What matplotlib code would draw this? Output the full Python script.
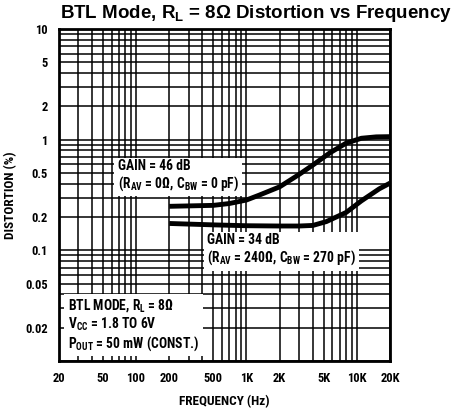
import matplotlib
matplotlib.use("Agg")
import matplotlib.pyplot as plt
from matplotlib import font_manager
from matplotlib.ticker import FixedLocator, NullFormatter

installed = {f.name for f in font_manager.fontManager.ttflist}
narrow = [n for n in ['Liberation Sans Narrow', 'DejaVu Sans Condensed', 'Roboto Condensed',
                      'Open Sans Condensed', 'Liberation Sans'] if n in installed]
plt.rcParams['font.family'] = narrow[:1] + ['DejaVu Sans']
plt.rcParams['font.weight'] = 'bold'
plt.rcParams['axes.labelweight'] = 'bold'
plt.rcParams['mathtext.default'] = 'regular'

# curve data
freq_46 = [200, 500, 700, 1000, 1300, 2000, 3000, 4000, 5700, 8000, 11000, 15000, 20000]
thd_46 = [0.25, 0.255, 0.265, 0.285, 0.315, 0.375, 0.485, 0.59, 0.76, 0.93, 1.03, 1.06, 1.065]

freq_34 = [200, 500, 1000, 2000, 3000, 4000, 5300, 8000, 11000, 16000, 20000]
thd_34 = [0.175, 0.17, 0.167, 0.166, 0.166, 0.168, 0.182, 0.22, 0.28, 0.36, 0.405]

x_ticks = [20, 50, 100, 200, 500, 1000, 2000, 5000, 10000, 20000]
x_labels = ["20", "50", "100", "200", "500", "1K", "2K", "5K", "10K", "20K"]
y_ticks = [0.02, 0.05, 0.1, 0.2, 0.5, 1, 2, 5, 10]
y_labels = ["0.02", "0.05", "0.1", "0.2", "0.5", "1", "2", "5", "10"]

fig = plt.figure(figsize=(4.53, 4.08), dpi=100)
ax = fig.add_axes([0.130, 0.115, 0.731, 0.814])

ax.set_xscale('log')
ax.set_yscale('log')
ax.set_xlim(20, 20000)
ax.set_ylim(0.01, 10)

ax.xaxis.set_major_locator(FixedLocator(x_ticks))
ax.set_xticklabels(x_labels)
ax.yaxis.set_major_locator(FixedLocator(y_ticks))
ax.set_yticklabels(y_labels)

xminor = [m * 10 ** e for e in range(1, 5) for m in range(1, 10)]
yminor = [m * 10 ** e for e in range(-2, 1) for m in range(1, 10)] + [10]
ax.xaxis.set_minor_locator(FixedLocator(xminor))
ax.yaxis.set_minor_locator(FixedLocator(yminor))
ax.xaxis.set_minor_formatter(NullFormatter())
ax.yaxis.set_minor_formatter(NullFormatter())

ax.tick_params(which='both', length=0, labelsize=9, pad=8)
ax.grid(which='both', color='black', lw=1.1)
for s in ax.spines.values():
    s.set_linewidth(2)

ax.plot(freq_46, thd_46, color='black', lw=3.5, zorder=5, solid_capstyle='butt')
ax.plot(freq_34, thd_34, color='black', lw=3.5, zorder=5, solid_capstyle='butt')

box = dict(facecolor='white', edgecolor='none', pad=2.5)
ax.text(68, 0.47, "GAIN = 46 dB\n(R$_{AV}$ = 0Ω, C$_{BW}$ = 0 pF)",
        fontsize=9.8, va='center', ha='left', bbox=box, zorder=4, linespacing=1.1)
ax.text(440, 0.1, "GAIN = 34 dB\n(R$_{AV}$ = 240Ω, C$_{BW}$ = 270 pF)",
        fontsize=9.8, va='center', ha='left', bbox=box, zorder=4, linespacing=1.1)
ax.text(24.2, 0.0212, "BTL MODE, R$_{L}$ = 8Ω\nV$_{CC}$ = 1.8 TO 6V\nP$_{OUT}$ = 50 mW (CONST.)",
        fontsize=9.8, va='center', ha='left', bbox=box, zorder=4, linespacing=1.1)

ax.set_xlabel("FREQUENCY (Hz)", fontsize=9.5, labelpad=7)
ax.set_ylabel("DISTORTION (%)", fontsize=9.5, labelpad=6)

fig.text(256 / 453, 1 - 13 / 408, "BTL Mode, R$_{L}$ = 8Ω Distortion vs Frequency",
         ha='center', va='center', fontsize=13.5, fontweight='bold',
         family=['Liberation Sans', 'DejaVu Sans'])

fig.savefig('out.png', dpi=100)
